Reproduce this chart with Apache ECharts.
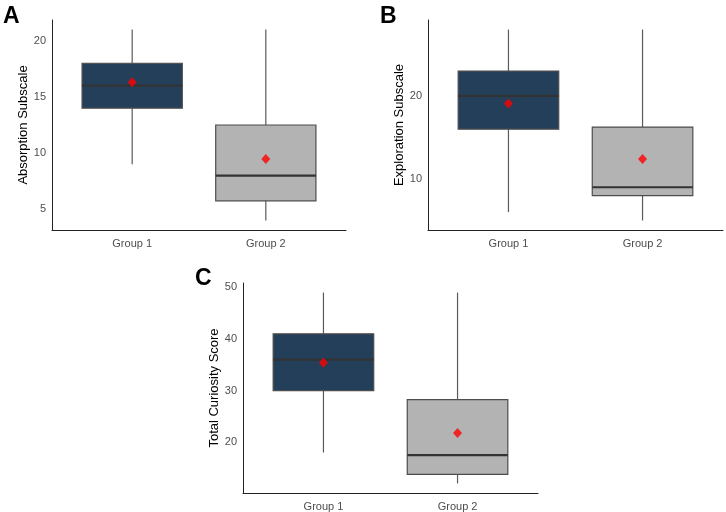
<!DOCTYPE html>
<html>
<head>
<meta charset="utf-8">
<script src="https://cdn.jsdelivr.net/npm/echarts@6/dist/echarts.min.js"></script>
<style>
html,body{margin:0;padding:0;background:#fff;}
#chart{width:726px;height:512px;}
</style>
</head>
<body>
<div id="chart"></div>
<script>
// ---- data ----
const categories = ['Group 1', 'Group 2'];
// [min, Q1, median, Q3, max]
const absorptionStats = [[9, 14, 16, 18, 21], [4, 5.75, 8, 12.5, 21]];
const absorptionMeans = [16.3, 9.47];
const explorationStats = [[6, 16, 20, 23, 28], [5, 8, 9, 16.25, 28]];
const explorationMeans = [19.1, 12.4];
const totalStats = [[18, 30, 36, 41, 49], [12, 13.75, 17.5, 28.25, 49]];
const totalMeans = [35.4, 21.8];
const absorptionTicks = [5, 10, 15, 20];
const explorationTicks = [10, 20];
const totalTicks = [20, 30, 40, 50];
const yNames = ['Absorption Subscale', 'Exploration Subscale', 'Total Curiosity Score'];
const panelLetters = ['A', 'B', 'C'];

// ---- styles ----
const FONT = '"Liberation Sans", Arial, Helvetica, sans-serif';
const fills = ['#243f59', '#b3b3b3'];
const panels = [
  {stats: absorptionStats, means: absorptionMeans, ticks: absorptionTicks, grid: {left: 52, top: 20, width: 294, height: 210}},
  {stats: explorationStats, means: explorationMeans, ticks: explorationTicks, grid: {left: 428, top: 20, width: 295, height: 210}},
  {stats: totalStats, means: totalMeans, ticks: totalTicks, grid: {left: 243, top: 283, width: 295, height: 211}}
];
const letterPos = [{left: 3, top: 5}, {left: 380, top: 5}, {left: 195, top: 267}];

const chart = echarts.init(document.getElementById('chart'), null, {renderer: 'canvas'});

const grids = [], xAxes = [], yAxes = [], series = [], graphics = [];

panels.forEach((p, i) => {
  grids.push(Object.assign({containLabel: false}, p.grid));
  let lo = Infinity, hi = -Infinity;
  p.stats.forEach(s => { lo = Math.min(lo, s[0]); hi = Math.max(hi, s[4]); });
  const pad = (hi - lo) * 0.05;
  xAxes.push({
    type: 'value', gridIndex: i, min: 0.4, max: 2.6,
    axisLine: {show: true, lineStyle: {color: '#222', width: 1}},
    axisTick: {show: false},
    splitLine: {show: false},
    axisLabel: {
      customValues: [1, 2], margin: 8,
      formatter: v => categories[Math.round(v) - 1] || '',
      color: '#4d4d4d', fontSize: 11, fontFamily: FONT
    }
  });
  yAxes.push({
    type: 'value', gridIndex: i, min: lo - pad, max: hi + pad,
    name: yNames[i], nameLocation: 'middle', nameGap: 22,
    nameTextStyle: {color: '#000', fontSize: 13, fontFamily: FONT},
    axisLine: {show: true, lineStyle: {color: '#222', width: 1}},
    axisTick: {show: false},
    splitLine: {show: false},
    axisLabel: {customValues: p.ticks, margin: 6, color: '#4d4d4d', fontSize: 11, fontFamily: FONT}
  });
  series.push({
    type: 'custom', xAxisIndex: i, yAxisIndex: i,
    data: p.stats.map((s, k) => [k + 1].concat(s)),
    encode: {x: 0, y: [1, 2, 3, 4, 5]},
    silent: true,
    renderItem: function (params, api) {
      const x = api.value(0);
      const k = params.dataIndex;
      const pMin = api.coord([x, api.value(1)]);
      const pQ1 = api.coord([x, api.value(2)]);
      const pMed = api.coord([x, api.value(3)]);
      const pQ3 = api.coord([x, api.value(4)]);
      const pMax = api.coord([x, api.value(5)]);
      const w = api.size([0.75, 0])[0];
      const cx = pMed[0];
      const whisker = {stroke: '#5a5a5a', lineWidth: 1.2};
      return {
        type: 'group',
        children: [
          {type: 'line', shape: {x1: cx, y1: pQ3[1], x2: cx, y2: pMax[1]}, style: whisker},
          {type: 'line', shape: {x1: cx, y1: pMin[1], x2: cx, y2: pQ1[1]}, style: whisker},
          {type: 'rect', shape: {x: cx - w / 2, y: pQ3[1], width: w, height: pQ1[1] - pQ3[1]},
            style: {fill: fills[k], stroke: '#4d4d4d', lineWidth: 1.2}},
          {type: 'line', shape: {x1: cx - w / 2, y1: pMed[1], x2: cx + w / 2, y2: pMed[1]},
            style: {stroke: '#333', lineWidth: 2.2}}
        ]
      };
    }
  });
  series.push({
    type: 'scatter', xAxisIndex: i, yAxisIndex: i, silent: true,
    symbol: 'diamond', symbolSize: [9, 10],
    itemStyle: {color: '#ff0000'},
    data: p.means.map((m, k) => [k + 1, m]),
    z: 5
  });
  graphics.push({
    type: 'text', left: letterPos[i].left, top: letterPos[i].top,
    style: {text: panelLetters[i], fill: '#000', font: 'bold 23px ' + FONT}
  });
});

chart.setOption({
  animation: false,
  backgroundColor: '#fff',
  grid: grids,
  xAxis: xAxes,
  yAxis: yAxes,
  series: series,
  graphic: graphics
});
</script>
</body>
</html>
